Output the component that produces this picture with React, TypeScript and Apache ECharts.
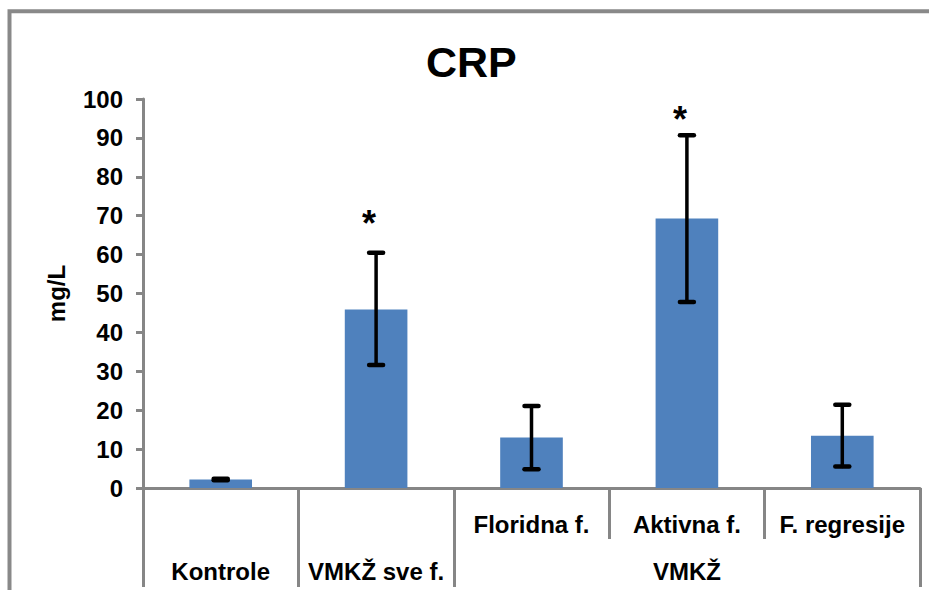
import React, { useEffect, useRef } from "react";
import * as echarts from "echarts";

const categories = ["Kontrole", "VMKŽ sve f.", "Floridna f.", "Aktivna f.", "F. regresije"];
const upperLabels = ["", "", "Floridna f.", "Aktivna f.", "F. regresije"];
const lowerLabels = ["Kontrole", "VMKŽ sve f.", "", "VMKŽ", ""];
const means = [2.2, 45.9, 13.0, 69.3, 13.4];
const errLow = [2.0, 31.6, 4.8, 47.8, 5.5];
const errHigh = [2.4, 60.5, 21.1, 90.7, 21.4];
const sigMarks = ["", "*", "", "*", ""];
const sigPos = [null, 70.0, null, 96.7, null];

const yMin = 0;
const yMax = 100;
const yInterval = 10;

const FONT = "Arial, 'Liberation Sans', sans-serif";
const GRAY = "#868686";

export default function App() {
  const ref = useRef<HTMLDivElement>(null);

  useEffect(() => {
    if (!ref.current) return;
    const chart = echarts.init(ref.current, null, { renderer: "svg" });

    const errData = categories.map((_, i) => [i, errLow[i], errHigh[i]]);
    const sigData = categories
      .map((_, i) => (sigPos[i] == null ? null : [i, sigPos[i], i]))
      .filter((d) => d !== null);

    const option: any = {
      animation: false,
      backgroundColor: "#ffffff",
      title: {
        text: "CRP",
        left: 426,
        top: 40,
        padding: 0,
        textStyle: { fontFamily: FONT, fontSize: 43, fontWeight: "bold", color: "#000" },
      },
      graphic: [
        {
          type: "rect",
          shape: { x: 9.5, y: 11.3, width: 1200, height: 1200 },
          style: { fill: "none", stroke: "#898989", lineWidth: 4 },
          silent: true,
          z: 0,
        },
      ],
      grid: {
        left: 143,
        right: 9,
        top: 99,
        bottom: 102,
        containLabel: false,
        outerBoundsMode: "none",
      },
      xAxis: [
        {
          type: "category",
          data: categories,
          position: "bottom",
          axisLine: { show: true, lineStyle: { color: GRAY, width: 3 } },
          axisTick: { show: true, interval: 0, length: 51, lineStyle: { color: GRAY, width: 3 } },
          axisLabel: {
            interval: 0,
            margin: 24,
            lineHeight: 24,
            fontFamily: FONT,
            fontSize: 24,
            fontWeight: "bold",
            color: "#000",
            formatter: (_v: string, i: number) => upperLabels[i],
          },
          splitLine: { show: false },
        },
        {
          type: "category",
          data: categories,
          position: "bottom",
          gridIndex: 0,
          axisLine: { show: false },
          axisTick: {
            show: true,
            interval: (i: number) => i <= 2,
            length: 99,
            lineStyle: { color: GRAY, width: 3 },
          },
          axisLabel: {
            interval: 0,
            margin: 71,
            lineHeight: 24,
            fontFamily: FONT,
            fontSize: 24,
            fontWeight: "bold",
            color: "#000",
            formatter: (_v: string, i: number) => lowerLabels[i],
          },
          splitLine: { show: false },
        },
      ],
      yAxis: {
        type: "value",
        min: yMin,
        max: yMax,
        interval: yInterval,
        name: "mg/L",
        nameLocation: "middle",
        nameGap: 75,
        nameTextStyle: { fontFamily: FONT, fontSize: 24, fontWeight: "bold", color: "#000" },
        axisLine: { show: true, lineStyle: { color: GRAY, width: 3 } },
        axisTick: { show: true, length: 7, lineStyle: { color: GRAY, width: 3 } },
        axisLabel: {
          margin: 20,
          fontFamily: FONT,
          fontSize: 24,
          fontWeight: "bold",
          color: "#000",
        },
        splitLine: { show: false },
      },
      series: [
        {
          type: "bar",
          xAxisIndex: 0,
          data: means,
          barWidth: "40.3%",
          itemStyle: { color: "#4F81BD" },
          z: 2,
        },
        {
          type: "custom",
          xAxisIndex: 0,
          data: errData,
          encode: { x: 0, y: [1, 2] },
          z: 3,
          renderItem: (_params: any, api: any) => {
            const i = api.value(0);
            const lo = api.coord([i, api.value(1)]);
            const hi = api.coord([i, api.value(2)]);
            const cap = 7;
            const stem = { stroke: "#000", lineWidth: 3.5, lineCap: "round" };
            const capStyle = { stroke: "#000", lineWidth: 4.5, lineCap: "round" };
            return {
              type: "group",
              children: [
                { type: "line", shape: { x1: lo[0], y1: lo[1], x2: hi[0], y2: hi[1] }, style: stem },
                { type: "line", shape: { x1: lo[0] - cap, y1: lo[1], x2: lo[0] + cap, y2: lo[1] }, style: capStyle },
                { type: "line", shape: { x1: hi[0] - cap, y1: hi[1], x2: hi[0] + cap, y2: hi[1] }, style: capStyle },
              ],
            };
          },
        },
        {
          type: "custom",
          xAxisIndex: 0,
          data: sigData,
          encode: { x: 0, y: 1 },
          z: 4,
          renderItem: (_params: any, api: any) => {
            const i = api.value(0);
            const p = api.coord([i, api.value(1)]);
            return {
              type: "text",
              x: p[0] - 7,
              y: p[1] + 8,
              style: {
                text: sigMarks[i],
                fontFamily: FONT,
                fontSize: 36,
                fontWeight: "bold",
                fill: "#000",
                align: "center",
                verticalAlign: "middle",
              },
            };
          },
        },
      ],
    };

    chart.setOption(option);
    return () => chart.dispose();
  }, []);

  return (
    <div
      ref={ref}
      style={{ position: "absolute", left: 0, top: 0, width: 929, height: 590 }}
    />
  );
}
